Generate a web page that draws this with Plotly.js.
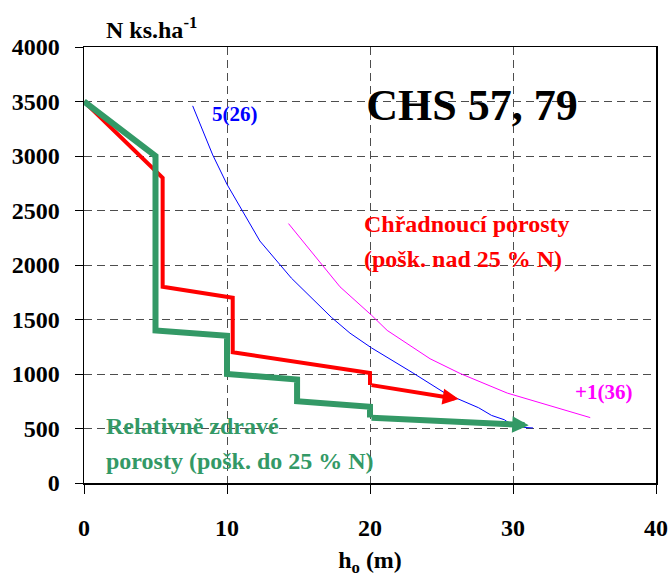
<!DOCTYPE html>
<html>
<head>
<meta charset="utf-8">
<script src="https://cdn.plot.ly/plotly-3.0.1.min.js"></script>
<style>html,body{margin:0;padding:0;background:#fff;}#chart{width:670px;height:577px;}</style>
</head>
<body>
<div id="chart"></div>
<script>
// Damaged stands (red) – stepped line, last point is arrow tip
var redX = [0, 5.5, 5.5, 10.4, 10.4, 20, 20, 26.2];
var redY = [3500, 2800, 1800, 1700, 1200, 1010, 900, 770];
// Relatively healthy stands (green)
var greenX = [0, 5, 5, 10, 10, 14.9, 14.9, 20, 20, 31.1];
var greenY = [3500, 3000, 1400, 1350, 1000, 950, 750, 700, 600, 530];
// Table curve 5(26) (blue)
var blueX = [7.6, 9.0, 10.0, 12.3, 14.5, 17.3, 18.6, 20.1, 23.0, 25.3, 27.6, 28.5, 29.4, 30.1, 31.4];
var blueY = [3460, 3010, 2740, 2220, 1880, 1520, 1375, 1240, 1010, 820, 690, 620, 580, 515, 505];
// Table curve +1(36) (magenta)
var magX = [14.3, 17.9, 20.1, 21.2, 24.2, 26.3, 29.6, 35.4];
var magY = [2380, 1800, 1540, 1400, 1140, 1005, 825, 600];

var xTicks = [0, 10, 20, 30, 40];
var yTicks = [0, 500, 1000, 1500, 2000, 2500, 3000, 3500, 4000];

var FONT = '"Liberation Serif", "Times New Roman", serif';

function head(a){ return a.slice(0, a.length - 1); }
function last(a, k){ return a[a.length - 1 - (k||0)]; }

var traces = [
  {x: blueX, y: blueY, mode: 'lines', line: {color: '#0000FF', width: 1}, hoverinfo: 'skip', showlegend: false},
  {x: magX, y: magY, mode: 'lines', line: {color: '#FF00FF', width: 1}, hoverinfo: 'skip', showlegend: false},
  {x: head(redX), y: head(redY), mode: 'lines', line: {color: '#FF0000', width: 4}, hoverinfo: 'skip', showlegend: false},
  {x: head(greenX), y: head(greenY), mode: 'lines', line: {color: '#339966', width: 6}, hoverinfo: 'skip', showlegend: false}
];

function txt(t, x, y, color, size, xanchor){
  return {text: t, xref: 'paper', yref: 'paper', x: x, y: y, xanchor: xanchor || 'left', yanchor: 'middle',
          showarrow: false, font: {family: FONT, size: size, color: color, weight: 'bold'}};
}
// pixel -> paper helpers (plot area 84..656, 47..483)
function px(p){ return (p - 84) / 572; }
function py(p){ return (483 - p) / 436; }

var annotations = [
  // last segment of each step line, drawn as an arrow
  {x: last(redX), y: last(redY), ax: last(redX,1), ay: last(redY,1), xref: 'x', yref: 'y', axref: 'x', ayref: 'y',
   showarrow: true, arrowhead: 2, arrowsize: 0.8, arrowwidth: 4, arrowcolor: '#FF0000', text: '', standoff: 0},
  {x: last(greenX), y: last(greenY), ax: last(greenX,1), ay: last(greenY,1), xref: 'x', yref: 'y', axref: 'x', ayref: 'y',
   showarrow: true, arrowhead: 2, arrowsize: 0.55, arrowwidth: 6, arrowcolor: '#339966', text: '', standoff: 0},
  txt('N ks.ha<sup>-1</sup>', px(104), py(28), '#000000', 24),
  txt('5(26)', px(235), py(114), '#0000FF', 21, 'center'),
  txt('+1(36)', px(603), py(392), '#FF00FF', 21, 'center'),
  txt('Chřadnoucí porosty', px(362), py(224), '#FF0000', 24),
  txt('(pošk. nad 25 % N)', px(362), py(259), '#FF0000', 24),
  txt('Relativně zdravé', px(104), py(426), '#339966', 24),
  txt('porosty (pošk. do 25 % N)', px(104), py(461), '#339966', 24)
];

var axisCommon = {
  showline: true, linecolor: '#000000', linewidth: 1.5, mirror: true,
  ticks: 'outside', tickcolor: '#000000', tickwidth: 1,
  showgrid: true, gridcolor: '#4d4d4d', gridwidth: 1, griddash: '8px,5px',
  zeroline: false, fixedrange: true,
  tickfont: {family: FONT, size: 24, color: '#000000', weight: 'bold'}
};

var layout = {
  width: 670, height: 577,
  margin: {l: 84, r: 14, t: 47, b: 94},
  paper_bgcolor: '#ffffff', plot_bgcolor: '#ffffff',
  font: {family: FONT},
  title: {text: 'CHS 57, 79', font: {family: FONT, size: 44, color: '#000000', weight: 'bold'},
          xref: 'paper', x: px(472), xanchor: 'center', yref: 'container', y: 1 - 105/577, yanchor: 'middle'},
  xaxis: Object.assign({}, axisCommon, {
    range: [0, 40], tickvals: xTicks, ticktext: xTicks.map(String), ticklen: 9, ticklabelstandoff: 14,
    title: {text: 'h<sub>o</sub> (m)', standoff: 14, font: {family: FONT, size: 24, color: '#000000', weight: 'bold'}}
  }),
  yaxis: Object.assign({}, axisCommon, {
    range: [0, 4000], tickvals: yTicks, ticktext: yTicks.map(String), ticklen: 8, ticklabelstandoff: 10
  }),
  annotations: annotations,
  showlegend: false
};

Plotly.newPlot('chart', traces, layout, {displayModeBar: false, staticPlot: true});
</script>
</body>
</html>
